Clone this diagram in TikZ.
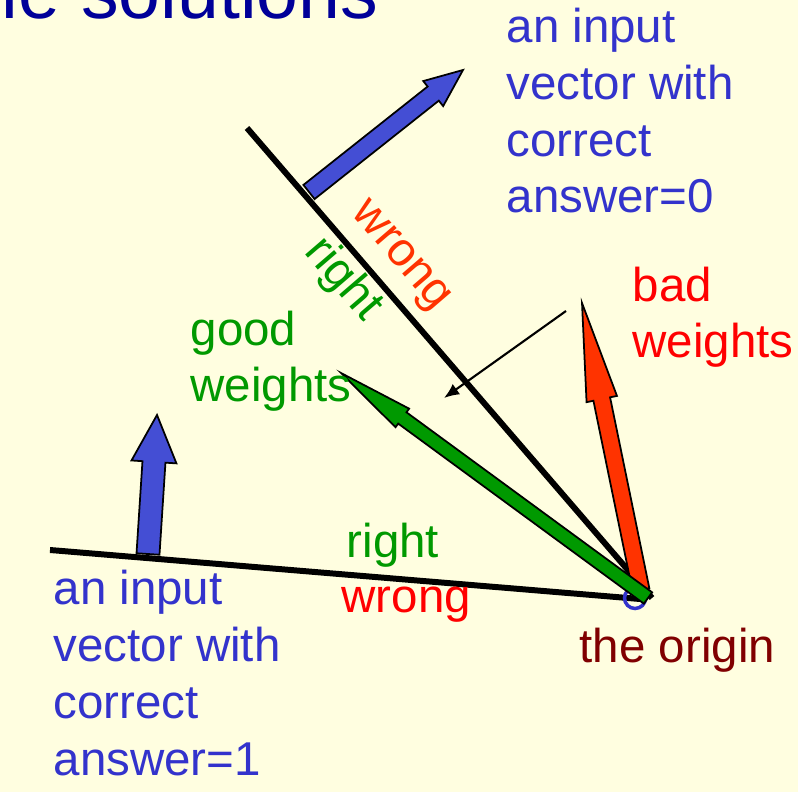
\documentclass[tikz,border=0pt]{standalone}
\usepackage{fontspec}
\setmainfont{Liberation Sans}
\usetikzlibrary{calc,arrows.meta}

\definecolor{slidebg}{RGB}{255,254,224}
\definecolor{titleblue}{RGB}{0,0,153}
\definecolor{txtblue}{RGB}{51,51,204}
\definecolor{vecblue}{RGB}{68,78,212}
\definecolor{txtgreen}{RGB}{0,153,0}
\definecolor{wrongred}{RGB}{255,51,0}
\definecolor{origincol}{RGB}{128,0,0}

% fat arrow: fill, tail, tip, shaft half width, head half width, head length
\newcommand{\fatarrow}[6]{%
  \path ($(#3)!#6!(#2)$) coordinate (hb);
  \filldraw[fill=#1, draw=black, line width=0.5pt, line join=miter]
    ($(#2)!#4!90:(#3)$) -- ($(hb)!#4!90:(#3)$) -- ($(hb)!#5!90:(#3)$) -- (#3)
    -- ($(hb)!#5!-90:(#3)$) -- ($(hb)!#4!-90:(#3)$) -- ($(#2)!#4!-90:(#3)$) -- cycle;
}

\begin{document}
\begin{tikzpicture}[x=0.01cm, y=-0.01cm,
  lbl/.style={font=\fontsize{13.5}{16.2}\selectfont, align=left, anchor=base west, inner sep=0pt},
  plane/.style={line width=1.7pt}]
\clip (0,0) rectangle (798,792);
\fill[slidebg] (0,0) rectangle (798,792);

% Title, cut by the top edge
\node[font=\fontsize{21.4}{25}\selectfont, text=titleblue, anchor=base east, inner sep=0pt] (title) at (379,19) {The cone of feasible solutions};

% Points
\coordinate (origin) at (635,598);
\coordinate (topA) at (247,128);
\coordinate (topB) at (652,598);
\coordinate (lowA) at (50,550);
\coordinate (lowB) at (640,599);
\coordinate (inzeroT) at (309,192);
\coordinate (inzeroH) at (463,70);
\coordinate (inoneT) at (148,554);
\coordinate (inoneH) at (157,415);
\coordinate (badT) at (641,590);
\coordinate (badH) at (582,303);
\coordinate (goodT) at (648,598);
\coordinate (goodH) at (341,373);
\coordinate (hintA) at (566,311);
\coordinate (hintB) at (444,398);

% Input vectors
\fatarrow{vecblue}{inzeroT}{inzeroH}{0.09cm}{0.16cm}{0.38cm}
\fatarrow{vecblue}{inoneT}{inoneH}{0.115cm}{0.225cm}{0.47cm}

% Planes through the origin
\draw[plane] (topA) -- (topB);
\draw[plane] (lowA) -- (lowB);
\draw[txtblue, line width=1pt] (origin) circle (10.5);

% Weight vectors
\fatarrow{wrongred}{badT}{badH}{0.085cm}{0.155cm}{0.98cm}
\fatarrow{txtgreen}{goodT}{goodH}{0.07cm}{0.115cm}{0.76cm}
\draw[line width=0.6pt, -{Latex[length=4.3pt,width=3.6pt]}] (hintA) -- (hintB);

% Labels (base anchor sits on the last line)
\node[lbl, text=txtblue] (inzero) at (506,213) {an input\\vector with\\correct\\answer=0};
\node[lbl, text=txtblue] (inone) at (53,775) {an input\\vector with\\correct\\answer=1};
\node[lbl, text=txtgreen] (good) at (190,402) {good\\weights};
\node[lbl, text=red] (bad) at (632,358) {bad\\weights};
\node[lbl, text=txtgreen] (rightlow) at (346,557) {right};
\node[lbl, text=red] (wronglow) at (341,612) {wrong};
\node[lbl, text=origincol] (originlbl) at (579,662) {the origin};
\node[lbl, anchor=center, rotate=-49.3, text=wrongred] (wrongtop) at (399,257) {wrong};
\node[lbl, anchor=center, rotate=-49.3, text=txtgreen] (righttop) at (343,280) {right};
\end{tikzpicture}
\end{document}
